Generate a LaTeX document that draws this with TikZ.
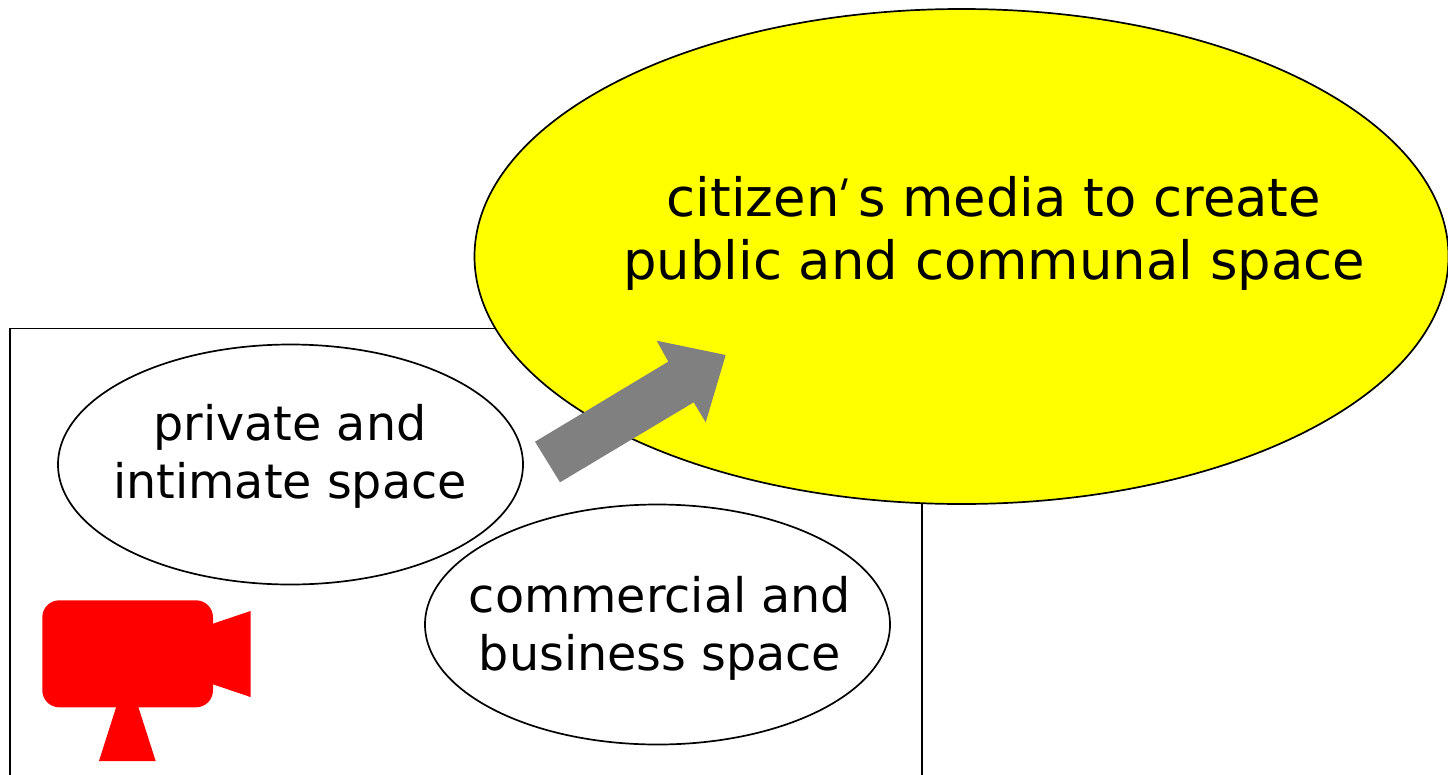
\documentclass[tikz,border=0pt]{standalone}
\usepackage{fontspec}
\setmainfont{DejaVu Sans}
\newfontfamily\aposfont[FakeSlant=0.3]{DejaVu Sans}
\usetikzlibrary{shapes.geometric}
\definecolor{purey}{RGB}{255,255,0}
\definecolor{purer}{RGB}{255,0,0}
\definecolor{arrowgray}{RGB}{128,128,128}
\tikzset{
  spaceell/.style={ellipse,draw=black,line width=1.7pt,inner sep=0pt},
  boxline/.style={line width=1.8pt},
  smalltext/.style={align=center,inner sep=0pt,font=\fontsize{47.6}{58}\selectfont},
  bigtext/.style={align=center,inner sep=0pt,font=\fontsize{52.8}{63}\selectfont},
}
\begin{document}
\begin{tikzpicture}[x=1pt,y=-1pt,line join=miter]
\useasboundingbox (0,0) rectangle (1448,774);
\draw[boxline] (10.2,800) -- (10.2,328.5) -- (922.2,328.5) -- (922.2,800);
\node[spaceell,fill=white,minimum width=465pt,minimum height=240pt] (priv) at (290.5,464.5) {};
\node[smalltext] (privt) at (290,456) {private and\\intimate space};
\node[spaceell,fill=white,minimum width=465pt,minimum height=240pt] (comm) at (657.5,624.5) {};
\node[smalltext] (commt) at (660,628.5) {commercial and\\business space};
\node[spaceell,fill=purey,minimum width=974pt,minimum height=495pt] (cit) at (961.5,256.5) {};
\node[bigtext] (citt) at (994,233) {citizen\hspace{-8pt}{\fontsize{42}{42}\aposfont\selectfont\raisebox{7pt}{\textquotesingle}}\hspace{15pt}s media to create\\public and communal space};
\fill[arrowgray] (535,441.7) -- (668.3,361.7) -- (656.7,340.7) -- (725.7,355) -- (705.7,422.3) -- (693.7,402.3) -- (560,482.3) -- cycle;
\fill[purer,rounded corners=17pt] (42.3,600.3) rectangle (213,707.3);
\fill[purer] (212,624) -- (250.5,611) -- (250.5,697) -- (212,684) -- cycle;
\fill[purer] (116.5,706) -- (138,706) -- (155.7,761) -- (99,761) -- cycle;
\end{tikzpicture}
\end{document}
